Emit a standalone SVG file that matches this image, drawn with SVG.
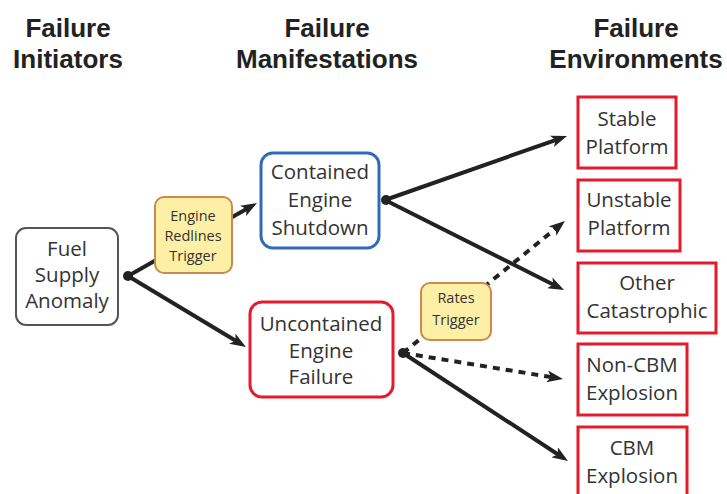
<svg xmlns="http://www.w3.org/2000/svg" width="727" height="494" viewBox="0 0 727 494">
<defs>
<style>
.hdr{font-family:"Liberation Sans",Arial,sans-serif;font-weight:bold;font-size:26px;fill:#222;text-anchor:middle}
.t{font-family:"Open Sans","Noto Sans",sans-serif;font-size:20.5px;fill:#333;text-anchor:middle}
.ts{font-family:"Open Sans","Noto Sans",sans-serif;font-size:14.5px;fill:#333;text-anchor:middle}
.gray{fill:#fff;stroke:#555;stroke-width:2}
.blue{fill:#fff;stroke:#2f6cb8;stroke-width:3}
.redr{fill:#fff;stroke:#e31b2c;stroke-width:3}
.env{fill:#fff;stroke:#e31b2c;stroke-width:3}
.trig{fill:#fdf0a6;stroke:#c98a4c;stroke-width:2}
.ln{stroke:#222;stroke-width:4;fill:none;marker-end:url(#ah)}
.dash{stroke-dasharray:7 6}
</style>
<marker id="ah" markerUnits="userSpaceOnUse" markerWidth="16" markerHeight="12" viewBox="0 0 16 12" refX="6" refY="6" orient="auto">
<path d="M0,0 L16,6 L0,12 L4,6 z" fill="#222"/>
</marker>
</defs>
<rect width="727" height="494" fill="#fff"/>
<g id="headers">
<text class="hdr" x="68" y="37">Failure</text>
<text class="hdr" x="68" y="68">Initiators</text>
<text class="hdr" x="327" y="37">Failure</text>
<text class="hdr" x="327" y="68">Manifestations</text>
<text class="hdr" x="636" y="37">Failure</text>
<text class="hdr" x="636" y="68">Environments</text>
</g>
<g id="connectors">
<line class="ln" x1="128" y1="276" x2="248.3" y2="207.9"/>
<line class="ln" x1="128" y1="276" x2="237.4" y2="341.8"/>
<line class="ln" x1="385" y1="200" x2="557.6" y2="139.3"/>
<line class="ln" x1="385" y1="200" x2="555.1" y2="285.5"/>
<line class="ln dash" x1="403" y1="353" x2="557.2" y2="227.3"/>
<line class="ln dash" x1="403" y1="353" x2="553.1" y2="377.4"/>
<line class="ln" x1="403" y1="353" x2="559.6" y2="455.5"/>
<circle cx="128" cy="276" r="5" fill="#222"/>
<circle cx="386" cy="200" r="5" fill="#222"/>
<circle cx="403" cy="353" r="5" fill="#222"/>
</g>
<g id="fuel">
<rect class="gray" x="16" y="228" width="102" height="97" rx="10"/>
<text class="t" x="67" y="256">Fuel</text>
<text class="t" x="67" y="282">Supply</text>
<text class="t" x="67" y="308">Anomaly</text>
</g>
<g id="redlines">
<rect class="trig" x="155" y="197" width="77" height="76" rx="9"/>
<text class="ts" x="193" y="221">Engine</text>
<text class="ts" x="193" y="241">Redlines</text>
<text class="ts" x="193" y="261">Trigger</text>
</g>
<g id="contained">
<rect class="blue" x="261" y="153" width="118" height="95" rx="12"/>
<text class="t" x="320" y="179">Contained</text>
<text class="t" x="320" y="207">Engine</text>
<text class="t" x="320" y="235">Shutdown</text>
</g>
<g id="uncontained">
<rect class="redr" x="250" y="302" width="143" height="95" rx="12"/>
<text class="t" x="321" y="331">Uncontained</text>
<text class="t" x="321" y="358">Engine</text>
<text class="t" x="321" y="384">Failure</text>
</g>
<g id="rates">
<rect class="trig" x="421" y="283" width="70" height="57" rx="9"/>
<text class="ts" x="456" y="303">Rates</text>
<text class="ts" x="456" y="325">Trigger</text>
</g>
<g id="stable">
<rect class="env" x="578" y="97" width="98" height="71"/>
<text class="t" x="627" y="126">Stable</text>
<text class="t" x="627" y="154">Platform</text>
</g>
<g id="unstable">
<rect class="env" x="578" y="180" width="102" height="71"/>
<text class="t" x="629" y="207">Unstable</text>
<text class="t" x="629" y="235">Platform</text>
</g>
<g id="other">
<rect class="env" x="578" y="263" width="138" height="70"/>
<text class="t" x="647" y="290">Other</text>
<text class="t" x="647" y="318">Catastrophic</text>
</g>
<g id="noncbm">
<rect class="env" x="578" y="344" width="109" height="71"/>
<text class="t" x="632" y="372">Non-CBM</text>
<text class="t" x="632" y="400">Explosion</text>
</g>
<g id="cbm">
<rect class="env" x="578" y="427" width="109" height="70"/>
<text class="t" x="632" y="455">CBM</text>
<text class="t" x="632" y="483">Explosion</text>
</g>
</svg>
